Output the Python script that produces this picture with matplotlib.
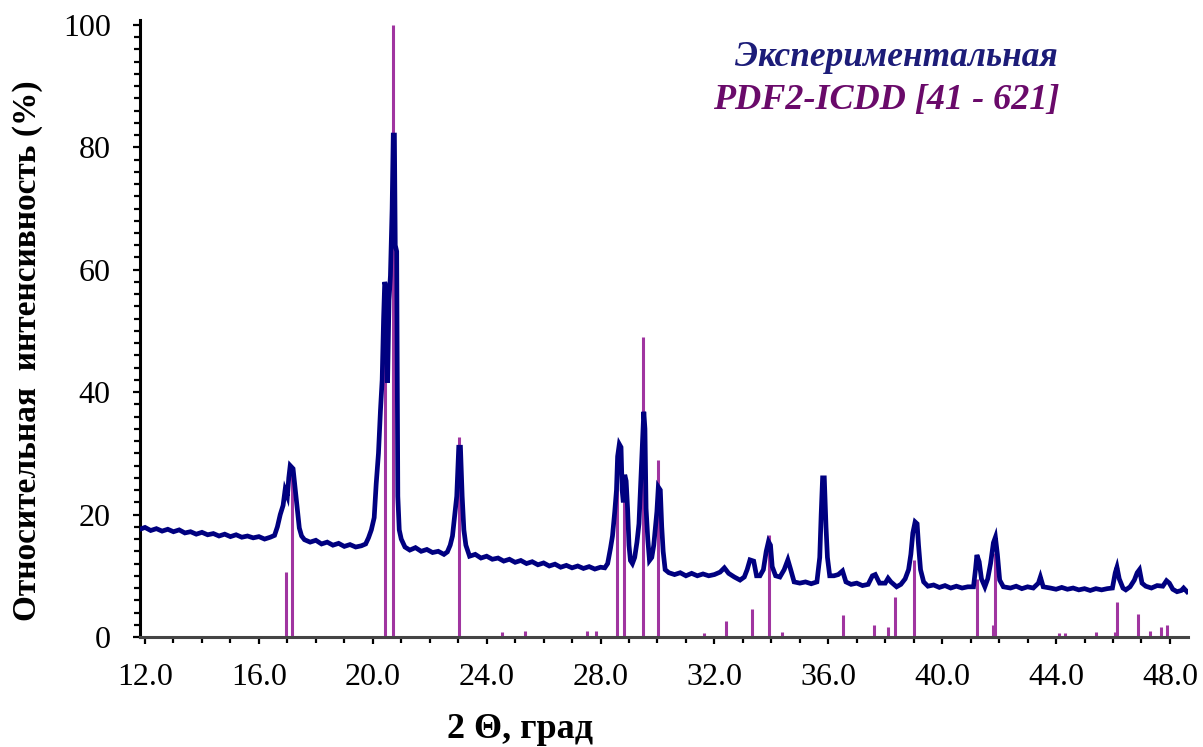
import numpy as np
import matplotlib
matplotlib.use("Agg")
import matplotlib.pyplot as plt
from matplotlib.ticker import MultipleLocator, FormatStrFormatter

plt.rcParams['font.family'] = ['Liberation Serif', 'DejaVu Serif']

two_theta = [
    11.82, 12.0, 12.2, 12.4, 12.6, 12.8, 13.0, 13.2, 13.4, 13.6, 13.8, 14.0, 14.2, 14.4, 14.6, 14.8,
    15.0, 15.2, 15.4, 15.6, 15.8, 16.0, 16.2, 16.4, 16.55, 16.65, 16.75, 16.85, 16.92, 17.0, 17.05,
    17.1, 17.2, 17.28, 17.35, 17.42, 17.5, 17.6, 17.8, 18.0, 18.2, 18.4, 18.6, 18.8, 19.0, 19.2,
    19.4, 19.6, 19.75, 19.85, 19.95, 20.05, 20.12, 20.2, 20.27, 20.33, 20.38, 20.42, 20.47, 20.52,
    20.57, 20.62, 20.68, 20.72, 20.76, 20.79, 20.84, 20.88, 20.93, 21.0, 21.13, 21.3, 21.5, 21.7,
    21.9, 22.1, 22.3, 22.5, 22.62, 22.72, 22.8, 22.88, 22.95, 23.02, 23.08, 23.14, 23.2, 23.27,
    23.4, 23.6, 23.8, 24.0, 24.2, 24.4, 24.6, 24.8, 25.0, 25.2, 25.4, 25.6, 25.8, 26.0, 26.2, 26.4,
    26.6, 26.8, 27.0, 27.2, 27.4, 27.6, 27.8, 28.0, 28.15, 28.25, 28.35, 28.42, 28.5, 28.56, 28.6,
    28.66, 28.72, 28.76, 28.8, 28.85, 28.9, 28.95, 29.0, 29.05, 29.12, 29.2, 29.28, 29.35, 29.42,
    29.47, 29.52, 29.56, 29.6, 29.66, 29.72, 29.8, 29.87, 29.93, 29.98, 30.03, 30.1, 30.15, 30.2,
    30.27, 30.4, 30.6, 30.8, 31.0, 31.2, 31.4, 31.6, 31.8, 32.0, 32.2, 32.35, 32.5, 32.7, 32.9,
    33.05, 33.15, 33.25, 33.38, 33.48, 33.6, 33.72, 33.82, 33.9, 33.97, 34.03, 34.15, 34.3, 34.45,
    34.58, 34.68, 34.8, 35.0, 35.2, 35.4, 35.6, 35.7, 35.75, 35.8, 35.86, 35.92, 35.97, 36.05,
    36.2, 36.35, 36.5, 36.62, 36.8, 37.0, 37.2, 37.4, 37.55, 37.65, 37.8, 38.0, 38.1, 38.2, 38.4,
    38.55, 38.7, 38.82, 38.9, 38.97, 39.05, 39.12, 39.17, 39.24, 39.35, 39.5, 39.7, 39.9, 40.1,
    40.3, 40.5, 40.7, 40.9, 41.1, 41.17, 41.22, 41.3, 41.38, 41.5, 41.6, 41.7, 41.8, 41.87, 41.94,
    42.02, 42.15, 42.4, 42.6, 42.8, 43.0, 43.2, 43.38, 43.45, 43.55, 43.8, 44.0, 44.2, 44.4, 44.6,
    44.8, 45.0, 45.2, 45.4, 45.6, 45.8, 45.98, 46.08, 46.14, 46.22, 46.35, 46.45, 46.6, 46.75,
    46.85, 46.93, 47.02, 47.15, 47.35, 47.55, 47.75, 47.88, 47.98, 48.1, 48.25, 48.4, 48.48, 48.6,
]
intensity = [
    17.6, 17.9, 17.4, 17.7, 17.3, 17.6, 17.2, 17.5, 17.0, 17.2, 16.8, 17.1, 16.7, 16.9, 16.5, 16.8,
    16.4, 16.7, 16.3, 16.5, 16.2, 16.4, 16.0, 16.3, 16.6, 18.0, 20.0, 21.5, 24.0, 23.0, 26.0,
    28.0, 27.5, 24.0, 21.0, 17.8, 16.5, 15.9, 15.5, 15.8, 15.2, 15.5, 15.0, 15.3, 14.8, 15.1,
    14.7, 14.9, 15.2, 16.2, 17.5, 19.5, 25.0, 30.0, 37.0, 42.0, 52.0, 58.0, 57.0, 41.5,
    55.0, 59.0, 70.0, 82.0, 82.0, 64.0, 63.0, 23.0, 17.5, 16.0, 14.7, 14.2, 14.6, 14.0,
    14.3, 13.8, 14.0, 13.5, 13.9, 15.0, 16.5, 20.0, 23.0, 31.0, 31.0, 23.0, 17.5, 15.0,
    13.2, 13.5, 12.9, 13.2, 12.7, 12.9, 12.4, 12.7, 12.2, 12.5, 12.0, 12.3, 11.8, 12.1, 11.6, 11.9,
    11.4, 11.7, 11.3, 11.6, 11.2, 11.5, 11.1, 11.4, 11.3, 12.0, 14.5, 16.5, 20.5, 24.0, 29.5,
    31.5, 31.0, 24.0, 22.0, 26.5, 25.5, 21.0, 15.0, 12.5, 12.0, 13.0, 15.5, 18.5, 26.0,
    31.0, 36.8, 34.0, 21.0, 16.0, 12.5, 13.0, 15.0, 18.0, 20.5, 24.5, 24.0, 18.0, 14.0,
    11.0, 10.5, 10.2, 10.5, 10.0, 10.4, 10.0, 10.3, 10.0, 10.2, 10.6, 11.3, 10.4, 9.8, 9.3,
    9.8, 11.0, 12.6, 12.4, 10.0, 10.0, 11.0, 14.0, 15.6, 15.0, 11.5, 10.0, 9.8, 11.0,
    12.6, 11.0, 9.0, 8.8, 9.0, 8.7, 9.0, 13.0, 20.0, 26.0, 26.0, 18.0, 13.0, 10.0,
    10.0, 10.2, 10.8, 9.0, 8.6, 8.8, 8.4, 8.6, 10.0, 10.2, 8.8, 8.8, 9.6, 9.0, 8.2,
    8.6, 9.5, 11.0, 13.5, 17.0, 18.8, 18.5, 15.0, 11.0, 9.0, 8.3, 8.5, 8.1, 8.4,
    8.0, 8.3, 8.0, 8.2, 8.2, 11.0, 13.4, 12.3, 9.5, 8.2, 9.5, 12.0, 15.4, 16.3, 13.5,
    9.3, 8.2, 8.0, 8.3, 7.9, 8.2, 8.0, 8.8, 9.8, 8.2, 8.0, 7.8, 8.1, 7.8, 8.0,
    7.7, 7.9, 7.6, 7.9, 7.7, 7.9, 8.0, 10.5, 11.4, 9.5, 8.0, 7.7, 8.2, 9.3,
    10.5, 11.0, 8.8, 8.3, 8.0, 8.4, 8.3, 9.2, 8.8, 7.8, 7.4, 7.6, 8.0, 7.4,
]

# Reference card PDF2-ICDD 41-621: line positions and relative intensities
pdf_pos = [16.95, 17.17, 20.43, 20.71, 23.03, 24.54, 25.35, 27.53, 27.84, 28.58, 28.82, 29.49,
           30.02, 31.63, 32.41, 33.32, 33.92, 34.37, 36.52, 37.61, 38.08, 38.36, 39.01, 41.22,
           41.80, 41.86, 44.10, 44.31, 45.40, 46.08, 46.14, 46.88, 47.30, 47.69, 47.90]
pdf_int = [10.6, 27.0, 49.0, 100.0, 32.7, 0.8, 1.0, 0.9, 0.9, 25.7, 22.7, 49.0,
           28.9, 0.6, 2.6, 4.6, 16.7, 0.8, 3.6, 2.0, 1.6, 6.5, 12.6, 9.5,
           2.0, 13.7, 0.6, 0.6, 0.8, 0.8, 5.7, 3.8, 1.0, 1.6, 1.9]

W, H = 1203, 747
fig = plt.figure(figsize=(W / 100, H / 100), dpi=100)
ax = fig.add_axes([140 / W, (H - 637) / H, (1188 - 140) / W, (637 - 20) / H])

ax.vlines(pdf_pos, 0, pdf_int, color='#a035a0', lw=2.2, zorder=2)
ax.plot(two_theta, intensity, color='#000080', lw=3.4, zorder=3, solid_joinstyle='miter')

ax.set_xlim(11.824, 48.635)
ax.set_ylim(0, 100.8)

for s in ['top', 'right']:
    ax.spines[s].set_visible(False)
ax.spines['left'].set_linewidth(2.2)
ax.spines['bottom'].set_linewidth(2.2)
ax.spines['bottom'].set_color('#444444')

ax.xaxis.set_major_locator(MultipleLocator(4))
ax.xaxis.set_minor_locator(MultipleLocator(1))
ax.xaxis.set_major_formatter(FormatStrFormatter('%.1f'))
ax.yaxis.set_major_locator(MultipleLocator(20))
ax.yaxis.set_minor_locator(MultipleLocator(2))

ax.tick_params(axis='both', which='both', direction='out', width=1.6, color='black')
ax.tick_params(axis='both', which='major', length=5, labelsize=23)
ax.tick_params(axis='both', which='minor', length=4)
ax.tick_params(axis='y', which='major', pad=16)
ax.tick_params(axis='x', which='major', pad=14)

ax.set_xlabel('2 \u0398, град', fontsize=26, fontweight='bold')
ax.xaxis.set_label_coords((520 - 140) / 1048, -(729 - 637) / 617, transform=ax.transAxes)
ax.xaxis.label.set_va('center')
ax.set_ylabel('Относительная  интенсивность (%)', fontsize=24, fontweight='bold')
ax.yaxis.set_label_coords(-(140 - 28) / 1048, (637 - 351) / 617, transform=ax.transAxes)
ax.yaxis.label.set_va('center')

fig.text(1058 / W, 1 - 58 / H, 'Экспериментальная', ha='right', va='center',
         fontsize=25.5, fontweight='bold', style='italic', color='#1c1c78')
fig.text(1060 / W, 1 - 101 / H, 'PDF2-ICDD [41 - 621]', ha='right', va='center',
         fontsize=26, fontweight='bold', style='italic', color='#6a0a6a')

fig.savefig('out.png', dpi=100)
